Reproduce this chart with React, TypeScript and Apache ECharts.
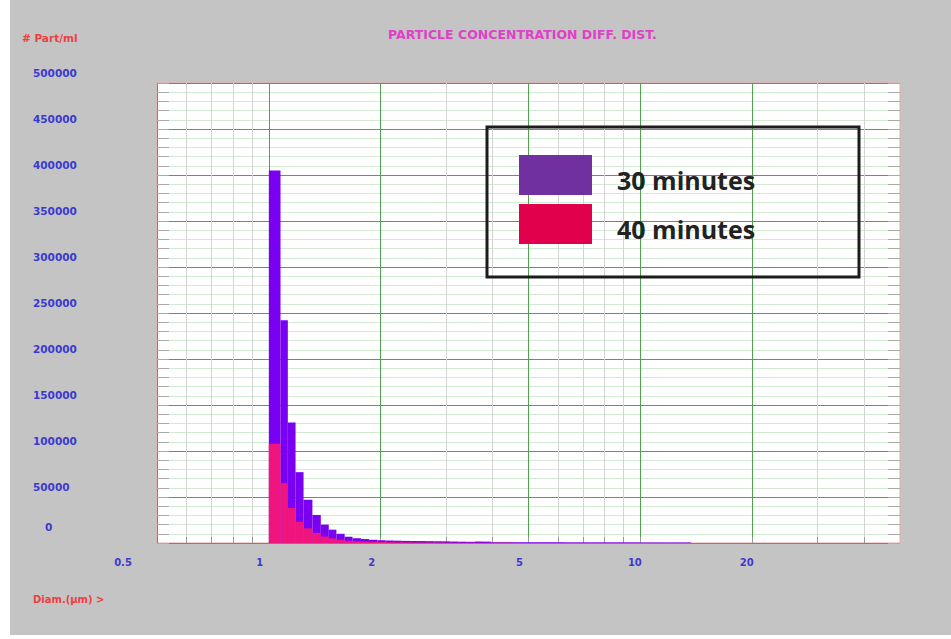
import React, { useEffect, useRef } from "react";
import * as echarts from "echarts";

// Bin edges of the particle counter (µm)
const binEdges = [
  1.0, 1.075, 1.125, 1.18, 1.24, 1.31, 1.38, 1.45, 1.52, 1.6, 1.68, 1.77, 1.86,
  1.96, 2.06, 2.17, 2.28, 2.4, 2.52, 2.65, 2.79, 2.93, 3.08, 3.24, 3.41, 3.58,
  3.77, 3.96, 4.6, 5.4, 6.3, 7.4, 8.6, 10.0, 11.7, 13.7,
];
// # Part/ml per bin, 30 minutes
const conc30 = [
  405000, 242000, 131000, 77000, 47000, 30500, 20000, 14500, 10000, 6800, 5200,
  4300, 3500, 3000, 2700, 2500, 2300, 2200, 2100, 2000, 1900, 1800, 1600, 1400,
  1300, 1600, 1500, 900, 800, 800, 700, 700, 700, 600, 600,
];
// # Part/ml per bin, 40 minutes
const conc40 = [
  108000, 65000, 38000, 23000, 16000, 11000, 7000, 5000, 3500, 2500, 2000, 1600,
  1300, 1100, 900, 800, 700, 600, 500, 500, 400, 400, 300, 300, 300, 300, 200,
  200, 0, 0, 0, 0, 0, 0, 0,
];
const seriesNames = ["30 minutes", "40 minutes"];
const xLabelValues = [0.5, 1, 2, 5, 10, 20];
const xGridValues = [0.6, 0.7, 0.8, 0.9, 1, 2, 3, 4, 5, 6, 7, 8, 9, 10, 20, 30, 40];
const xMajorValues = [1, 2, 5, 10, 20];

const GREEN = "#4fa04f";
const LIGHT_GRAY = "#d4d4d4";
const LABEL_BLUE = "#3a3ad0";
const LABEL_FONT = "DejaVu Sans";

function toBins(vals: number[]) {
  return vals.map((v, i) => [binEdges[i], binEdges[i + 1], v]);
}

function makeRender(color: string) {
  return (params: any, api: any) => {
    const x0 = api.value(0);
    const x1 = api.value(1);
    const y = api.value(2);
    const p0 = api.coord([x0, y]);
    const p1 = api.coord([x1, 0]);
    return {
      type: "rect",
      shape: { x: p0[0], y: p0[1], width: p1[0] - p0[0], height: p1[1] - p0[1] },
      style: { fill: color },
    };
  };
}

export default function App() {
  const ref = useRef<HTMLDivElement>(null);

  useEffect(() => {
    if (!ref.current) return;
    const chart = echarts.init(ref.current, undefined, { renderer: "svg" });
    const splitColors = xGridValues.map((v) => (xMajorValues.includes(v) ? GREEN : LIGHT_GRAY));

    const yAxisCommon = {
      type: "value",
      min: 0,
      max: 500000,
      interval: 50000,
    };

    chart.setOption({
      animation: false,
      backgroundColor: "#c4c4c4",
      title: {
        text: "PARTICLE CONCENTRATION DIFF. DIST.",
        left: 388,
        top: 28,
        padding: 0,
        textStyle: {
          color: "#e040c8",
          fontSize: 12.5,
          fontWeight: "bold",
          fontFamily: LABEL_FONT,
        },
      },
      legend: {
        orient: "vertical",
        left: 519,
        top: 155,
        padding: 0,
        itemGap: 9,
        itemWidth: 73,
        itemHeight: 40,
        icon: "rect",
        data: [
          { name: seriesNames[0], itemStyle: { color: "#7030a0" } },
          { name: seriesNames[1], itemStyle: { color: "#e0004b" } },
        ],
        formatter: (name: string) => "{t|" + name + "}",
        textStyle: {
          color: "#222",
          fontSize: 25,
          fontWeight: "bold",
          fontFamily: "Open Sans",
          rich: {
            t: {
              color: "#222",
              fontSize: 25,
              fontWeight: "bold",
              fontFamily: "Open Sans",
              padding: [10, 0, 0, 20],
            },
          },
        },
      },
      grid: {
        left: 157,
        top: 83,
        width: 743,
        height: 460,
        show: true,
        backgroundColor: "#ffffff",
        borderColor: "#e8a8a8",
        borderWidth: 1,
      },
      xAxis: {
        type: "log",
        logBase: 10,
        min: 0.5,
        max: 50,
        axisLine: { show: false },
        axisTick: {
          show: true,
          inside: true,
          length: 6,
          customValues: xGridValues,
          lineStyle: { color: "#999" },
        },
        minorTick: { show: false },
        splitLine: { show: true, lineStyle: { color: splitColors, width: 1 } },
        minorSplitLine: { show: false },
        axisLabel: {
          customValues: xLabelValues,
          margin: 14,
          formatter: (v: number) => {
            const s = String(Math.round(v * 10) / 10);
            if (v < 0.9) return "{a|" + s + "}";
            if (v < 9.5) return "{b|" + s + "}";
            return "{c|" + s + "}";
          },
          rich: {
            a: { color: LABEL_BLUE, fontSize: 10, fontWeight: "bold", fontFamily: LABEL_FONT, padding: [0, 68, 0, 0] },
            b: { color: LABEL_BLUE, fontSize: 10, fontWeight: "bold", fontFamily: LABEL_FONT, padding: [0, 18, 0, 0] },
            c: { color: LABEL_BLUE, fontSize: 10, fontWeight: "bold", fontFamily: LABEL_FONT, padding: [0, 11, 0, 0] },
          },
        },
      },
      yAxis: [
        {
          ...yAxisCommon,
          position: "left",
          axisLine: { show: true, lineStyle: { color: "#b07070" } },
          axisTick: { show: true, inside: true, length: 12, lineStyle: { color: "#aaa" } },
          minorTick: { show: true, splitNumber: 5, length: 12, lineStyle: { color: "#aaa" } },
          splitLine: { show: true, lineStyle: { color: GREEN, width: 1 } },
          minorSplitLine: { show: true, lineStyle: { color: "#d2ead2", width: 1 } },
          axisLabel: {
            align: "left",
            margin: 124,
            verticalAlign: "bottom",
            formatter: (v: number) => (v === 0 ? "{z|0}" : "{n|" + v + "}"),
            rich: {
              n: { color: LABEL_BLUE, fontSize: 10.5, fontWeight: "bold", fontFamily: LABEL_FONT, padding: [0, 0, 5, 0] },
              z: { color: LABEL_BLUE, fontSize: 10.5, fontWeight: "bold", fontFamily: LABEL_FONT, padding: [0, 0, 11, 12] },
            },
          },
        },
        {
          ...yAxisCommon,
          position: "right",
          axisLine: { show: false },
          axisTick: { show: true, inside: true, length: 12, lineStyle: { color: "#aaa" } },
          minorTick: { show: true, splitNumber: 5, length: 12, lineStyle: { color: "#aaa" } },
          splitLine: { show: false },
          minorSplitLine: { show: false },
          axisLabel: { show: false },
        },
      ],
      series: [
        {
          name: seriesNames[0],
          type: "custom",
          renderItem: makeRender("#7a00f2"),
          itemStyle: { color: "#7030a0" },
          encode: { x: [0, 1], y: 2 },
          data: toBins(conc30),
          z: 3,
        },
        {
          name: seriesNames[1],
          type: "custom",
          renderItem: makeRender("#f0147f"),
          itemStyle: { color: "#e0004b" },
          encode: { x: [0, 1], y: 2 },
          data: toBins(conc40),
          z: 4,
        },
      ],
      graphic: [
        {
          type: "rect",
          z: 100,
          shape: { x: 487, y: 127, width: 372, height: 150 },
          style: { fill: "rgba(0,0,0,0)", stroke: "#1c1c1c", lineWidth: 3 },
        },
        {
          type: "text",
          z: 100,
          left: 22,
          top: 32,
          style: { text: "# Part/ml", fill: "#ee4040", fontSize: 10.5, fontWeight: "bold", fontFamily: LABEL_FONT },
        },
        {
          type: "text",
          z: 100,
          left: 33,
          top: 594,
          style: { text: "Diam.(µm) >", fill: "#ee4040", fontSize: 10, fontWeight: "bold", fontFamily: LABEL_FONT },
        },
        {
          type: "rect",
          z: 100,
          shape: { x: 0, y: 0, width: 10, height: 639 },
          style: { fill: "#ffffff" },
        },
        {
          type: "rect",
          z: 100,
          shape: { x: 0, y: 635, width: 951, height: 4 },
          style: { fill: "#ffffff" },
        },
      ],
    });

    return () => chart.dispose();
  }, []);

  return (
    <div
      ref={ref}
      style={{ position: "fixed", left: 0, top: 0, width: 951, height: 639 }}
    />
  );
}
